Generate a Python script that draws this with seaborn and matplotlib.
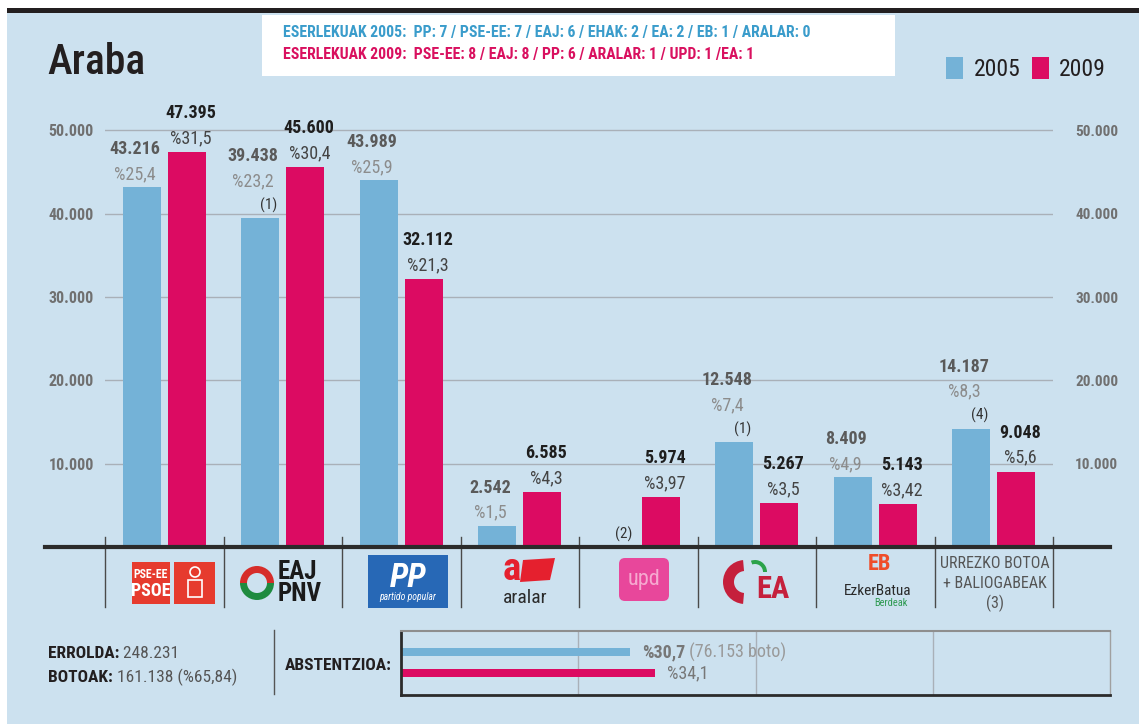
import numpy as np
import pandas as pd
import matplotlib.pyplot as plt
import seaborn as sns
from matplotlib.patches import Rectangle, FancyBboxPatch, Wedge, Circle, Polygon
from matplotlib.transforms import blended_transform_factory

# Datuak (Araba, 2005 vs 2009)
parties = ['PSE-EE', 'EAJ-PNV', 'PP', 'ARALAR', 'UPD', 'EA', 'EB', 'URREZKO']
years = ['2005', '2009']
votes_2005 = [43216, 39438, 43989, 2542, np.nan, 12548, 8409, 14187]
votes_2009 = [47395, 45600, 32112, 6585, 5974, 5267, 5143, 9048]
pct_2005 = ['%25,4', '%23,2', '%25,9', '%1,5', '', '%7,4', '%4,9', '%8,3']
pct_2009 = ['%31,5', '%30,4', '%21,3', '%4,3', '%3,97', '%3,5', '%3,42', '%5,6']
notes_2005 = ['', '(1)', '', '', '(2)', '(1)', '', '(4)']
yticks = [10000, 20000, 30000, 40000, 50000]
ytick_labels = ['10.000', '20.000', '30.000', '40.000', '50.000']

abst_pct = [30.7, 34.1]
abst_labels = ['%30,7', '%34,1']
abst_extra = [' (76.153 boto)', '']

seats_2005 = 'ESERLEKUAK 2005:  PP: 7 / PSE-EE: 7 / EAJ: 6 / EHAK: 2 / EA: 2 / EB: 1 / ARALAR: 0'
seats_2009 = 'ESERLEKUAK 2009:  PSE-EE: 8 / EAJ: 8 / PP: 6 / ARALAR: 1 / UPD: 1 /EA: 1'
errolda = '248.231'
botoak = '161.138 (%65,84)'

BLUE = '#74B2D7'
PINK = '#DC0B62'
BG = '#CCE1EF'
W, H = 1139, 724

plt.rcParams['font.family'] = ['Roboto Condensed', 'Liberation Sans', 'DejaVu Sans']

fig = plt.figure(figsize=(W / 100, H / 100), dpi=100, facecolor=BG)
tr = fig.dpi_scale_trans


def P(x, y):
    return (x / 100, (H - y) / 100)


def box(x0, y0, x1, y1, **kw):
    fig.add_artist(Rectangle(P(x0, y1), (x1 - x0) / 100, (y1 - y0) / 100, transform=tr, **kw))


def txt(x, y, s, **kw):
    return fig.text(*P(x, y), s, transform=tr, **kw)


# marko orokorra
box(0, 0, W, 8, color='white', lw=0)
box(0, 0, 7, H, color='white', lw=0)
box(7, 8, W, 13, color='#231F20', lw=0)
box(262, 15, 895, 76, color='white', lw=0)
txt(283, 33, seats_2005, color='#3A9CCB', fontsize=11.3, weight='bold', va='center')
txt(283, 54, seats_2009, color='#D9105F', fontsize=11.3, weight='bold', va='center')
txt(47, 62, 'Araba', fontsize=30, weight='medium', color='#231F20', va='center')

# grafiko nagusia
df = pd.DataFrame({
    'party': parties * 2,
    'year': [years[0]] * len(parties) + [years[1]] * len(parties),
    'votes': votes_2005 + votes_2009,
})

ax = fig.add_axes([105 / W, (H - 547) / H, (1053 - 105) / W, 447 / H])
sns.barplot(data=df, x='party', y='votes', hue='year', order=parties, hue_order=years,
            palette=[BLUE, PINK], width=0.76, gap=0.16, saturation=1, errorbar=None, ax=ax)
ax.set_facecolor('none')
ax.set_xlim(-0.5, len(parties) - 0.5)
ax.set_ylim(0, 53650)
for s in ax.spines.values():
    s.set_visible(False)
ax.set_xlabel('')
ax.set_ylabel('')
ax.set_xticks([])
ax.set_yticks(yticks)
ax.set_yticklabels(ytick_labels)
ax.tick_params(axis='y', length=0, pad=8, labelsize=11.5, labelcolor='#707070')
for t in ax.get_yticklabels():
    t.set_fontweight('bold')
ax.grid(axis='y', color='#A9B0B8', lw=1)
ax.set_axisbelow(True)

sec = ax.secondary_yaxis('right')
sec.set_yticks(yticks)
sec.set_yticklabels(ytick_labels)
sec.tick_params(length=0, pad=16, labelsize=11, labelcolor='#707070')
for t in sec.get_yticklabels():
    t.set_fontweight('bold')
sec.spines['right'].set_visible(False)

handles, labels = ax.get_legend_handles_labels()
ax.legend(handles, labels, loc='center right', bbox_to_anchor=(1106 / W, 1 - 69 / H),
          bbox_transform=fig.transFigure, ncol=2, frameon=False, fontsize=17,
          borderpad=0, borderaxespad=0,
          handlelength=0.7, handleheight=1.1, handletextpad=0.45, columnspacing=0.5,
          labelcolor='#231F20')

# barren etiketak
bar2009 = ax.containers[1]
off = bar2009[0].get_x() + bar2009[0].get_width() / 2
for i in range(len(parties)):
    x5 = i - off
    top5 = 0 if np.isnan(votes_2005[i]) else votes_2005[i]
    dy = 13
    if notes_2005[i]:
        ax.annotate(notes_2005[i], (x5, top5), xytext=(8, dy), textcoords='offset pixels',
                    ha='center', va='center', fontsize=11, color='#333333')
        dy += 24
    if pct_2005[i]:
        ax.annotate(pct_2005[i], (x5, top5), xytext=(-7, dy), textcoords='offset pixels',
                    ha='center', va='center', fontsize=13, color='#8C8C8C')
        ax.annotate(f'{int(votes_2005[i]):,}'.replace(',', '.'), (x5, top5), xytext=(-7, dy + 25),
                    textcoords='offset pixels', ha='center', va='center', fontsize=13,
                    weight='bold', color='#5A5A5A')
    x9 = i + off
    top9 = votes_2009[i]
    ax.annotate(pct_2009[i], (x9, top9), xytext=(4, 14), textcoords='offset pixels',
                ha='center', va='center', fontsize=13, color='#444444')
    ax.annotate(f'{votes_2009[i]:,}'.replace(',', '.'), (x9, top9), xytext=(4, 39),
                textcoords='offset pixels', ha='center', va='center', fontsize=13,
                weight='bold', color='#1E1E1E')

# oinarri lerroa eta bereizleak
fig.add_artist(plt.Line2D([45 / 100, 1110 / 100], [(H - 547) / 100] * 2, transform=tr,
                          color='#2B2B2B', lw=3))
bt = blended_transform_factory(ax.transData, ax.transAxes)
for b in np.arange(-0.5, len(parties), 1.0):
    ax.plot([b, b], [10 / 447, -60 / 447], transform=bt, color='#4A4A4A', lw=1, clip_on=False)

# logoak
box(132, 562, 170, 604, color='#E63B2E', lw=0)
box(174, 562, 215, 604, color='#E63B2E', lw=0)
txt(151, 575, 'PSE-EE', color='white', fontsize=8.5, weight='bold', ha='center', va='center')
txt(151, 591, 'PSOE', color='white', fontsize=13, weight='bold', ha='center', va='center')
fig.add_artist(Circle(P(195, 572), 0.05, transform=tr, fill=False, ec='white', lw=1.2))
box(188, 580, 202, 597, fill=False, ec='white', lw=1.2)

fig.add_artist(Wedge(P(257, 583), 0.17, 0, 180, width=0.07, transform=tr, color='#D62D2A', lw=0))
fig.add_artist(Wedge(P(257, 583), 0.17, 180, 360, width=0.07, transform=tr, color='#1E8B3F', lw=0))
txt(278, 572, 'EAJ', fontsize=18, weight='bold', color='#1A1A1A', va='center')
txt(278, 594, 'PNV', fontsize=18, weight='bold', color='#1A1A1A', va='center')

box(368, 555, 448, 608, color='#2768B6', lw=0)
txt(408, 578, 'PP', fontsize=24, weight='bold', style='italic', color='white', ha='center', va='center')
txt(408, 597, 'partido popular', fontsize=7, style='italic', color='white', ha='center', va='center')

fig.add_artist(Polygon([P(523, 560), P(555, 558), P(550, 580), P(520, 582)], closed=True,
                       transform=tr, color='#E5202E', lw=0))
txt(512, 569, 'a', fontsize=28, weight='bold', color='#E5202E', ha='center', va='center')
txt(525, 598, 'aralar', fontsize=14, color='#2A2A2A', ha='center', va='center')

fig.add_artist(FancyBboxPatch(P(619, 601), 0.50, 0.43, boxstyle='round,pad=0,rounding_size=0.06',
                              transform=tr, color='#E8479B', lw=0))
txt(644, 580, 'upd', fontsize=16, color='#F6A9D0', ha='center', va='center')

fig.add_artist(Wedge(P(745, 582), 0.22, 95, 265, width=0.11, transform=tr, color='#C5203C', lw=0))
fig.add_artist(Wedge(P(755, 572), 0.12, 0, 110, width=0.04, transform=tr, color='#2BA34A', lw=0))
txt(773, 589, 'EA', fontsize=22, weight='bold', color='#C5203C', ha='center', va='center')

txt(879, 564, 'EB', fontsize=16, weight='bold', color='#EF4E2A', ha='center', va='center')
txt(878, 591, 'EzkerBatua', fontsize=11, color='#2A2A2A', ha='center', va='center')
txt(891, 603, 'Berdeak', fontsize=7.5, color='#2E9A52', ha='center', va='center')

txt(995, 563, 'URREZKO BOTOA', fontsize=11.5, color='#555555', ha='center', va='center')
txt(995, 583, '+ BALIOGABEAK', fontsize=11.5, color='#555555', ha='center', va='center')
txt(995, 603, '(3)', fontsize=11.5, color='#555555', ha='center', va='center')

# behealdea
t1 = txt(48, 653, 'ERROLDA:', fontsize=12.5, weight='bold', color='#231F20', va='center')
t2 = txt(48, 677, 'BOTOAK:', fontsize=12.5, weight='bold', color='#231F20', va='center')
ax.annotate(' ' + errolda, xy=(1, 0.5), xycoords=t1, ha='left', va='center', fontsize=12.5,
            color='#555555', annotation_clip=False)
ax.annotate(' ' + botoak, xy=(1, 0.5), xycoords=t2, ha='left', va='center', fontsize=12.5,
            color='#555555', annotation_clip=False)
fig.add_artist(plt.Line2D([274 / 100] * 2, [(H - 630) / 100, (H - 694) / 100], transform=tr,
                          color='#555555', lw=1))
txt(285, 665, 'ABSTENTZIOA:', fontsize=12.5, weight='bold', color='#231F20', va='center')

abst_max = 95
ax2 = fig.add_axes([401 / W, (H - 695) / H, 709 / W, 64 / H])
sns.barplot(x=abst_pct, y=years, hue=years, palette=[BLUE, PINK], orient='h', width=0.38,
            saturation=1, errorbar=None, legend=False, ax=ax2)
ax2.set_facecolor('none')
ax2.set_xlim(0, abst_max)
ax2.set_ylim(2.03, -1.0)
ax2.set_xticks([abst_max * k / 4 for k in (1, 2, 3)])
ax2.set_yticks([])
ax2.set_xlabel('')
ax2.set_ylabel('')
ax2.tick_params(axis='x', length=0, labelbottom=False)
ax2.grid(axis='x', color='#A9B0B8', lw=1)
ax2.set_axisbelow(True)
ax2.spines['left'].set(color='#2B2B2B', lw=2)
ax2.spines['bottom'].set(color='#2B2B2B', lw=2)
ax2.spines['top'].set(color='#8E8E8E', lw=1.5)
ax2.spines['right'].set(color='#A0A0A0', lw=1)
abst_weights = ['bold', 'normal']
for i, v in enumerate(abst_pct):
    a = ax2.annotate(abst_labels[i], (v, i), xytext=(12, 0), textcoords='offset pixels',
                     ha='left', va='center', fontsize=13, weight=abst_weights[i], color='#777777')
    if abst_extra[i]:
        ax2.annotate(abst_extra[i], xy=(1, 0.5), xycoords=a, ha='left', va='center',
                     fontsize=13, color='#999999', annotation_clip=False)

fig.savefig('out.png', dpi=100, facecolor=BG)
